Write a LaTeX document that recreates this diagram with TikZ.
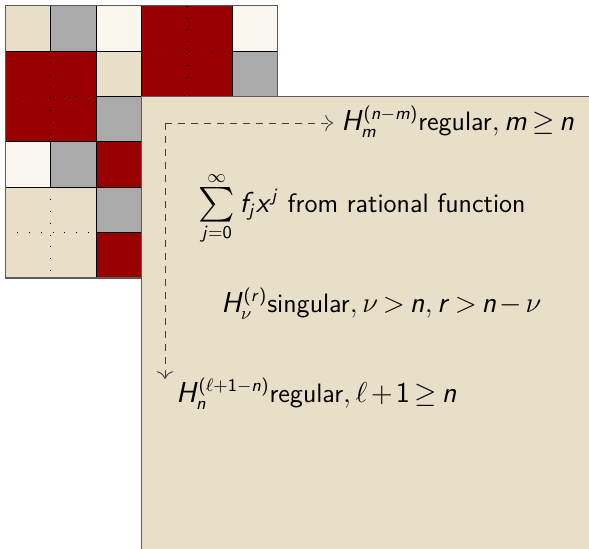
\documentclass[tikz,border=0pt]{standalone}
\usepackage{amsmath,amssymb}
\usepackage{graphicx}
\usepackage{tikz}
\usetikzlibrary{arrows.meta}
\usetikzlibrary{calc}
\usepackage{xcolor}

% sans serif letters and digits in math
\DeclareSymbolFont{sfit}{OT1}{cmss}{m}{sl}
\SetSymbolFont{operators}{normal}{OT1}{cmss}{m}{n}
\DeclareMathSymbol{H}{\mathalpha}{sfit}{`H}
\DeclareMathSymbol{m}{\mathalpha}{sfit}{`m}
\DeclareMathSymbol{n}{\mathalpha}{sfit}{`n}
\DeclareMathSymbol{r}{\mathalpha}{sfit}{`r}
\DeclareMathSymbol{f}{\mathalpha}{sfit}{`f}
\DeclareMathSymbol{j}{\mathalpha}{sfit}{`j}
\DeclareMathSymbol{x}{\mathalpha}{sfit}{`x}
\thickmuskip=3mu\relax
\medmuskip=2mu\relax
\newcommand{\bigsum}{\mathop{\vcenter{\hbox{\scalebox{1.3}{$\textstyle\sum$}}}}\limits}

\definecolor{sandbg}{HTML}{E8DFC8}
\definecolor{blockred}{HTML}{990000}
\definecolor{midgray}{HTML}{AAAAAA}
\definecolor{cream}{HTML}{FAF7EE}
\definecolor{framegray}{HTML}{5A5A5A}

\tikzset{
	cell/.style={draw=black, line width=0.5pt},
	halfline/.style={dash pattern=on 0.5pt off 5.4pt, line width=0.6pt, black},
	guide/.style={dash pattern=on 3.5pt off 3pt, black!75, line width=0.45pt},
	txt/.style={anchor=base west, inner sep=2pt, font=\sffamily\fontsize{13.3}{16}\selectfont}
}

\begin{document}
\begin{tikzpicture}[x=0.5pt, y=-0.5pt]
		
		% page frame
		\useasboundingbox (0,0) rectangle (589,548);
		\clip (0,0) rectangle (589,548);
		
		% coloured blocks of the table
		\begin{scope}[shift={(5.3,5.7)}, x=22.7pt, y=-22.7pt]
		\foreach \c/\r/\w/\h/\col in {0/0/1/1/sandbg, 1/0/1/1/midgray, 2/0/1/1/cream,
			3/0/2/2/blockred, 5/0/1/1/cream, 0/1/2/2/blockred, 2/1/1/1/sandbg,
			5/1/1/1/midgray, 2/2/1/1/midgray, 0/3/1/1/cream, 1/3/1/1/midgray,
			2/3/1/1/blockred, 0/4/2/2/sandbg, 2/4/1/1/midgray, 2/5/1/1/blockred}
		\filldraw[cell, fill=\col] (\c,\r) rectangle ++(\w,\h);
		
		% dotted halves inside the 2x2 blocks
		\foreach \c/\r in {3/0, 0/1, 0/4}
		{
			\draw[halfline] (\c+1,\r) -- (\c+1,\r+2);
			\draw[halfline] (\c,\r+1) -- (\c+2,\r+1);
		}
		
		% outer frame
		\draw[framegray, line width=0.75pt] (0,0) rectangle (6,6);
		\end{scope}
		
		% panel in front
		\filldraw[framegray, line width=0.75pt, fill=sandbg] (141.5,96.7) rectangle (620,580);
		
		% labels
		\coordinate (corner) at (165,123);
		\coordinate (downend) at (165,379);
		\node[txt, inner xsep=4pt] (regm) at (333,130) {$H_m^{(n-m)}\text{regular}, m \geq n$};
		\node[txt] (sumfn) at (194,212) {$\bigsum_{j=0}^{\infty} f_j x^j$ from rational function};
		\node[txt] (sing) at (217,312) {$H_\nu^{(r)}\text{singular}, \nu > n, r > n - \nu$};
		\node[txt] (regn) at (172,402) {$H_n^{(\ell+1-n)}\text{regular}, \ell + 1 \geq n$};
		
		% paths
		\draw[guide, -{To[scale=1.5]}] (corner) -- (regm.west |- corner);
		\draw[guide, -{To[scale=1.5]}] (corner) -- (downend);
		
	\end{tikzpicture}
\end{document}
